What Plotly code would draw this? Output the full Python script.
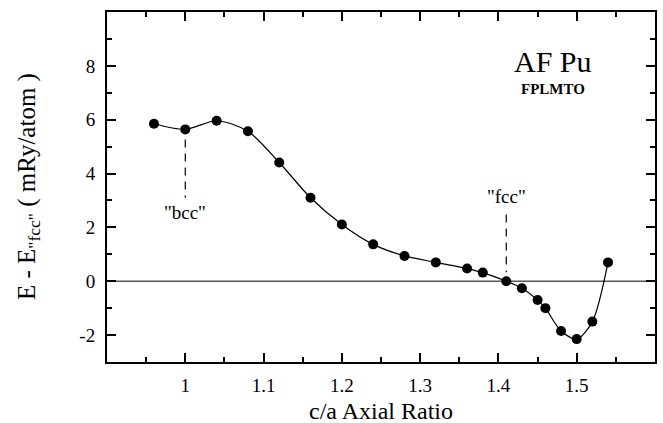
import plotly.graph_objects as go

# c/a axial ratio and total energy relative to the "fcc" point (mRy/atom)
ca_ratio = [0.96, 1.00, 1.04, 1.08, 1.12, 1.16, 1.20, 1.24, 1.28, 1.32,
            1.36, 1.38, 1.41, 1.43, 1.45, 1.46, 1.48, 1.50, 1.52, 1.54]
energy = [5.85, 5.64, 5.96, 5.57, 4.41, 3.10, 2.11, 1.37, 0.94, 0.70,
          0.47, 0.32, 0.00, -0.26, -0.70, -1.00, -1.85, -2.15, -1.50, 0.70]

x_major = [1.0, 1.1, 1.2, 1.3, 1.4, 1.5]
x_major_text = ["1", "1.1", "1.2", "1.3", "1.4", "1.5"]
x_minor = [0.95, 1.05, 1.15, 1.25, 1.35, 1.45, 1.55]
y_major = [-2, 0, 2, 4, 6, 8]
y_major_text = ["-2", "0", "2", "4", "6", "8"]
y_minor = [-1, 1, 3, 5, 7, 9]
x_range = [0.9, 1.6]
y_range = [-3, 10]

# reference structures: (label, c/a, dashed marker span, label height)
bcc_mark = ("\"bcc\"", 1.00, (5.26, 3.10), 2.55)
fcc_mark = ("\"fcc\"", 1.41, (2.48, 0.33), 3.15)

SERIF = "Liberation Serif"

fig = go.Figure()

# zero-energy reference line
fig.add_hline(y=0, line=dict(color="#555555", width=1.5), layer="below")

for label, xv, (y0, y1), ylab in (bcc_mark, fcc_mark):
    fig.add_trace(go.Scatter(
        x=[xv, xv], y=[y0, y1], mode="lines",
        line=dict(color="black", width=1.2, dash="8px,6px"),
        hoverinfo="skip", showlegend=False))
    fig.add_annotation(x=xv, y=ylab, text=label, showarrow=False,
                       font=dict(family=SERIF, size=19, color="black"))

fig.add_trace(go.Scatter(
    x=ca_ratio, y=energy, mode="lines+markers",
    line=dict(color="black", width=1.2, shape="spline", smoothing=0.8),
    marker=dict(color="black", size=10),
    showlegend=False))

fig.add_annotation(x=1.47, y=8.15, text="AF Pu", showarrow=False,
                   font=dict(family=SERIF, size=30, color="black"))
fig.add_annotation(x=1.47, y=7.15, text="<b>FPLMTO</b>", showarrow=False,
                   font=dict(family=SERIF, size=15, color="black"))

# axis titles
fig.add_annotation(xref="paper", yref="paper", x=0.5, y=-0.14,
                   xanchor="center", yanchor="middle", showarrow=False,
                   text="c/a Axial Ratio",
                   font=dict(family=SERIF, size=24, color="black"))
fig.add_annotation(xref="paper", yref="paper", x=-0.144, y=0.5,
                   xanchor="center", yanchor="middle", showarrow=False,
                   textangle=-90,
                   text="E - E<sub>\"fcc\"</sub> ( mRy/atom )",
                   font=dict(family=SERIF, size=25, color="black"))

tick_font = dict(family=SERIF, size=19, color="black")


def axis_style(major, major_text, minor_vals):
    return dict(
        tickmode="array", tickvals=major, ticktext=major_text,
        ticks="inside", ticklen=9, tickwidth=2, tickcolor="black",
        minor=dict(tickmode="array", tickvals=minor_vals, ticks="inside",
                   ticklen=5, tickwidth=2, tickcolor="black", showgrid=False),
        showline=True, linecolor="black", linewidth=2, mirror="allticks",
        showgrid=False, zeroline=False, automargin=False, tickfont=tick_font)


fig.update_layout(
    width=663, height=423,
    margin=dict(l=107, r=8, t=12, b=61),
    paper_bgcolor="white", plot_bgcolor="white",
    font=dict(family=SERIF, color="black"),
    xaxis=dict(range=x_range, ticklabelstandoff=5,
               **axis_style(x_major, x_major_text, x_minor)),
    yaxis=dict(range=y_range, ticklabelstandoff=6,
               **axis_style(y_major, y_major_text, y_minor)),
)

fig.write_html("out.html")
